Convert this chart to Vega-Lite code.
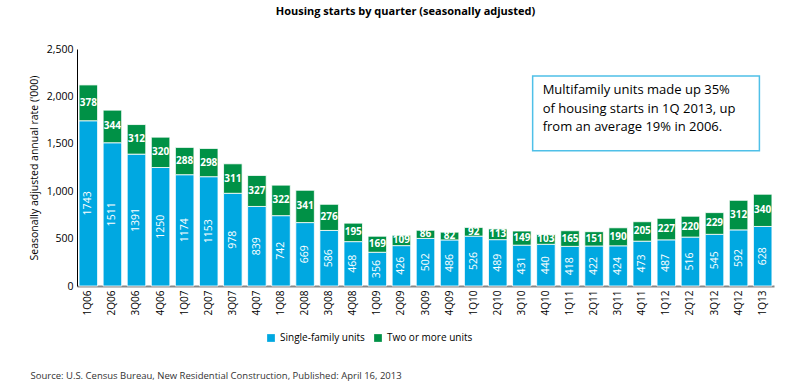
{
  "$schema": "https://vega.github.io/schema/vega-lite/v6.json",
  "width": 697,
  "height": 237,
  "autosize": {"type": "none"},
  "padding": {"left": 77, "top": 49, "right": 18, "bottom": 105},
  "background": "white",
  "title": {
    "text": "Housing starts by quarter (seasonally adjusted)",
    "fontSize": 11,
    "fontWeight": "bold",
    "font": "Open Sans",
    "color": "black",
    "anchor": "middle",
    "dx": -20,
    "offset": 27
  },
  "data": {
    "values": [
      {"q": "1Q06", "type": "Single-family units", "value": 1743}, {"q": "1Q06", "type": "Two or more units", "value": 378},
      {"q": "2Q06", "type": "Single-family units", "value": 1511}, {"q": "2Q06", "type": "Two or more units", "value": 344},
      {"q": "3Q06", "type": "Single-family units", "value": 1391}, {"q": "3Q06", "type": "Two or more units", "value": 312},
      {"q": "4Q06", "type": "Single-family units", "value": 1250}, {"q": "4Q06", "type": "Two or more units", "value": 320},
      {"q": "1Q07", "type": "Single-family units", "value": 1174}, {"q": "1Q07", "type": "Two or more units", "value": 288},
      {"q": "2Q07", "type": "Single-family units", "value": 1153}, {"q": "2Q07", "type": "Two or more units", "value": 298},
      {"q": "3Q07", "type": "Single-family units", "value": 978}, {"q": "3Q07", "type": "Two or more units", "value": 311},
      {"q": "4Q07", "type": "Single-family units", "value": 839}, {"q": "4Q07", "type": "Two or more units", "value": 327},
      {"q": "1Q08", "type": "Single-family units", "value": 742}, {"q": "1Q08", "type": "Two or more units", "value": 322},
      {"q": "2Q08", "type": "Single-family units", "value": 669}, {"q": "2Q08", "type": "Two or more units", "value": 341},
      {"q": "3Q08", "type": "Single-family units", "value": 586}, {"q": "3Q08", "type": "Two or more units", "value": 276},
      {"q": "4Q08", "type": "Single-family units", "value": 468}, {"q": "4Q08", "type": "Two or more units", "value": 195},
      {"q": "1Q09", "type": "Single-family units", "value": 356}, {"q": "1Q09", "type": "Two or more units", "value": 169},
      {"q": "2Q09", "type": "Single-family units", "value": 426}, {"q": "2Q09", "type": "Two or more units", "value": 109},
      {"q": "3Q09", "type": "Single-family units", "value": 502}, {"q": "3Q09", "type": "Two or more units", "value": 86},
      {"q": "4Q09", "type": "Single-family units", "value": 486}, {"q": "4Q09", "type": "Two or more units", "value": 82},
      {"q": "1Q10", "type": "Single-family units", "value": 526}, {"q": "1Q10", "type": "Two or more units", "value": 92},
      {"q": "2Q10", "type": "Single-family units", "value": 489}, {"q": "2Q10", "type": "Two or more units", "value": 113},
      {"q": "3Q10", "type": "Single-family units", "value": 431}, {"q": "3Q10", "type": "Two or more units", "value": 149},
      {"q": "4Q10", "type": "Single-family units", "value": 440}, {"q": "4Q10", "type": "Two or more units", "value": 103},
      {"q": "1Q11", "type": "Single-family units", "value": 418}, {"q": "1Q11", "type": "Two or more units", "value": 165},
      {"q": "2Q11", "type": "Single-family units", "value": 422}, {"q": "2Q11", "type": "Two or more units", "value": 151},
      {"q": "3Q11", "type": "Single-family units", "value": 424}, {"q": "3Q11", "type": "Two or more units", "value": 190},
      {"q": "4Q11", "type": "Single-family units", "value": 473}, {"q": "4Q11", "type": "Two or more units", "value": 205},
      {"q": "1Q12", "type": "Single-family units", "value": 487}, {"q": "1Q12", "type": "Two or more units", "value": 227},
      {"q": "2Q12", "type": "Single-family units", "value": 516}, {"q": "2Q12", "type": "Two or more units", "value": 220},
      {"q": "3Q12", "type": "Single-family units", "value": 545}, {"q": "3Q12", "type": "Two or more units", "value": 229},
      {"q": "4Q12", "type": "Single-family units", "value": 592}, {"q": "4Q12", "type": "Two or more units", "value": 312},
      {"q": "1Q13", "type": "Single-family units", "value": 628}, {"q": "1Q13", "type": "Two or more units", "value": 340}
    ]
  },
  "layer": [
    {
      "mark": {"type": "bar", "stroke": "white", "strokeWidth": 1, "strokeOpacity": 0.8},
      "encoding": {
        "x": {
          "field": "q",
          "type": "ordinal",
          "sort": null,
          "scale": {"paddingInner": 0.23, "paddingOuter": 0.085},
          "axis": {
            "title": "Source: U.S. Census Bureau, New Residential Construction, Published: April 16, 2013",
            "titleX": -47,
            "titleY": 89,
            "titleAlign": "left",
            "titleAnchor": "start",
            "titleBaseline": "middle",
            "titleFontSize": 9.5,
            "titleFontWeight": "normal",
            "titleColor": "#333333",
            "labelAngle": -90,
            "labelFontSize": 10,
            "labelColor": "black",
            "labelPadding": 4,
            "ticks": false,
            "domainColor": "#888888",
            "domainWidth": 2
          }
        },
        "y": {
          "field": "value",
          "type": "quantitative",
          "stack": "zero",
          "scale": {"domain": [0, 2500], "nice": false},
          "axis": {
            "title": "Seasonally adjusted annual rate ('000)",
            "titleFontSize": 10.5,
            "titleFontWeight": "normal",
            "titleColor": "black",
            "titlePadding": 7,
            "values": [0, 500, 1000, 1500, 2000, 2500],
            "format": ",.0f",
            "labelFontSize": 10.5,
            "labelColor": "black",
            "labelPadding": 4,
            "ticks": false,
            "grid": false,
            "domainColor": "black",
            "domainWidth": 1
          }
        },
        "color": {
          "field": "type",
          "type": "nominal",
          "scale": {"domain": ["Single-family units", "Two or more units"], "range": ["#00a8e1", "#009146"]},
          "legend": {
            "orient": "none",
            "legendX": 189,
            "legendY": 284,
            "direction": "horizontal",
            "title": null,
            "symbolType": "square",
            "symbolSize": 60,
            "symbolStrokeWidth": 0,
            "labelFontSize": 10,
            "labelColor": "black",
            "columnPadding": 8
          }
        },
        "order": {"field": "type", "sort": "ascending"}
      }
    },
    {
      "mark": {"type": "text", "angle": 270, "color": "white", "fontSize": 10.5, "font": "Open Sans"},
      "encoding": {
        "x": {"field": "q", "type": "ordinal", "sort": null},
        "y": {"field": "value", "type": "quantitative", "stack": "zero", "bandPosition": 0.5},
        "detail": {"field": "type"},
        "order": {"field": "type", "sort": "ascending"},
        "text": {"condition": {"test": "datum.type === 'Single-family units'", "field": "value", "type": "quantitative"}, "value": ""}
      }
    },
    {
      "mark": {"type": "text", "color": "white", "fontSize": 10, "fontWeight": "bold", "font": "Open Sans"},
      "encoding": {
        "x": {"field": "q", "type": "ordinal", "sort": null},
        "y": {"field": "value", "type": "quantitative", "stack": "zero", "bandPosition": 0.5},
        "detail": {"field": "type"},
        "order": {"field": "type", "sort": "ascending"},
        "text": {"condition": {"test": "datum.type === 'Two or more units'", "field": "value", "type": "quantitative"}, "value": ""}
      }
    },
    {
      "data": {"values": [{"note": "Multifamily units made up 35%\nof housing starts in 1Q 2013, up\nfrom an average 19% in 2006."}]},
      "mark": {"type": "rect", "fill": "white", "stroke": "#4fc0e8", "strokeWidth": 1.5, "xOffset": -4, "x2Offset": 6},
      "encoding": {
        "x": {"datum": "4Q10", "type": "ordinal", "bandPosition": 0},
        "x2": {"datum": "1Q13", "bandPosition": 0},
        "y": {"datum": 2215, "type": "quantitative"},
        "y2": {"datum": 1427}
      }
    },
    {
      "data": {"values": [{"note": "Multifamily units made up 35%\nof housing starts in 1Q 2013, up\nfrom an average 19% in 2006."}]},
      "mark": {"type": "text", "align": "left", "baseline": "top", "fontSize": 13, "font": "Open Sans", "color": "black", "lineBreak": "\n", "lineHeight": 18.5, "dx": 6},
      "encoding": {
        "x": {"datum": "4Q10", "type": "ordinal", "bandPosition": 0},
        "y": {"datum": 2130, "type": "quantitative"},
        "text": {"field": "note", "type": "nominal"}
      }
    }
  ],
  "config": {
    "view": {"stroke": null},
    "font": "Open Sans",
    "axis": {"labelFont": "Open Sans", "titleFont": "Open Sans"},
    "legend": {"labelFont": "Open Sans"}
  }
}
